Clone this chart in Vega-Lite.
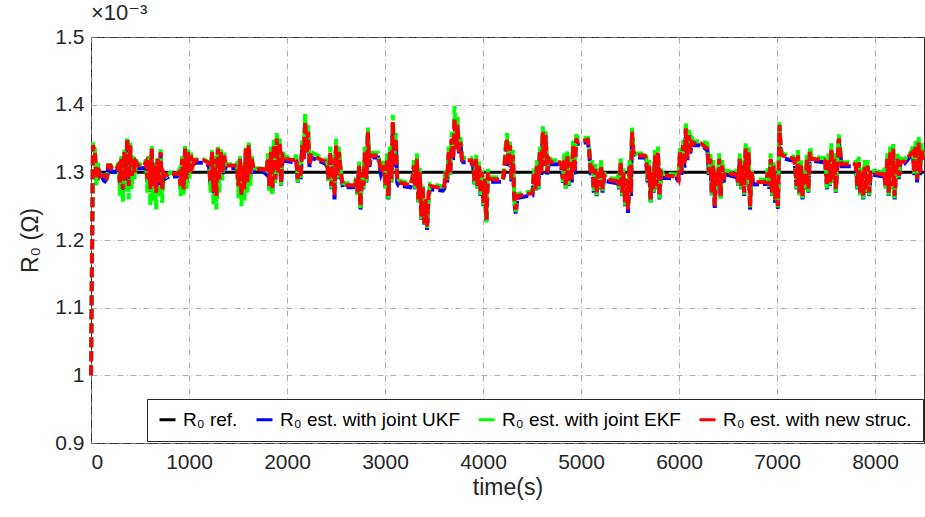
{
"$schema":"https://vega.github.io/schema/vega-lite/v6.json",
"width":833,"height":406,
"autosize":{"type":"none"},
"padding":{"left":91,"top":37,"right":1,"bottom":74},
"background":"white",
"title":{"text":"×10⁻³","anchor":"start","frame":"group","fontSize":22,"fontWeight":"normal","font":"Liberation Sans, DejaVu Sans","color":"#262626","offset":1},
"config":{
 "view":{"stroke":"#262626","strokeWidth":1},
 "axis":{"labelFont":"Liberation Sans","labelFontSize":21,"labelColor":"#262626","titleFont":"Liberation Sans","titleFontSize":23,"titleFontWeight":"normal","titleColor":"#262626","grid":true,"gridColor":"#8c8c8c","gridDash":[6,3,1,3],"gridOpacity":0.7,"gridWidth":1,"domain":false,"ticks":false},
 "legend":{"orient":"none","legendX":56,"legendY":362,"direction":"horizontal","columns":4,"strokeColor":"#262626","fillColor":"white","padding":11,"symbolType":"stroke","symbolStrokeWidth":3,"symbolSize":256,"labelFontSize":19,"labelFont":"Liberation Sans","labelColor":"#000000","labelLimit":400,"columnPadding":12,"labelOffset":6,"cornerRadius":0}
},
"datasets":{
"ref":[{"t":0,"v":1.3},{"t":8500,"v":1.3}],
"est":[
{"t":0,"n":1.00,"u":1.00,"e":1.00},
{"t":20,"n":1.34,"u":1.338,"e":1.344},
{"t":40,"n":1.33,"u":1.328,"e":1.334},
{"t":55,"n":1.29,"u":1.286,"e":1.28},
{"t":70,"n":1.31,"u":1.308,"e":1.314},
{"t":90,"n":1.295,"u":1.291,"e":1.293},
{"t":110,"n":1.30,"u":1.296,"e":1.301},
{"t":130,"n":1.295,"u":1.288,"e":1.296},
{"t":160,"n":1.292,"u":1.285,"e":1.293},
{"t":175,"n":1.31,"u":1.306,"e":1.311},
{"t":200,"n":1.31,"u":1.306,"e":1.311},
{"t":215,"n":1.305,"u":1.301,"e":1.306},
{"t":230,"n":1.305,"u":1.301,"e":1.306},
{"t":260,"n":1.305,"u":1.301,"e":1.307},
{"t":280,"n":1.31,"u":1.308,"e":1.314},
{"t":295,"n":1.285,"u":1.281,"e":1.265},
{"t":310,"n":1.32,"u":1.318,"e":1.324},
{"t":325,"n":1.275,"u":1.271,"e":1.255},
{"t":340,"n":1.33,"u":1.328,"e":1.334},
{"t":355,"n":1.29,"u":1.286,"e":1.27},
{"t":370,"n":1.35,"u":1.348,"e":1.352},
{"t":385,"n":1.28,"u":1.276,"e":1.26},
{"t":400,"n":1.34,"u":1.338,"e":1.344},
{"t":415,"n":1.295,"u":1.291,"e":1.275},
{"t":430,"n":1.32,"u":1.318,"e":1.324},
{"t":445,"n":1.30,"u":1.298,"e":1.29},
{"t":460,"n":1.315,"u":1.313,"e":1.319},
{"t":480,"n":1.31,"u":1.306,"e":1.312},
{"t":540,"n":1.31,"u":1.306,"e":1.312},
{"t":560,"n":1.315,"u":1.313,"e":1.319},
{"t":575,"n":1.29,"u":1.286,"e":1.27},
{"t":590,"n":1.32,"u":1.318,"e":1.324},
{"t":605,"n":1.275,"u":1.271,"e":1.25},
{"t":620,"n":1.335,"u":1.333,"e":1.339},
{"t":635,"n":1.28,"u":1.276,"e":1.258},
{"t":650,"n":1.31,"u":1.308,"e":1.314},
{"t":665,"n":1.27,"u":1.266,"e":1.245},
{"t":680,"n":1.32,"u":1.318,"e":1.324},
{"t":695,"n":1.285,"u":1.281,"e":1.262},
{"t":710,"n":1.33,"u":1.328,"e":1.334},
{"t":725,"n":1.275,"u":1.271,"e":1.255},
{"t":740,"n":1.30,"u":1.298,"e":1.29},
{"t":760,"n":1.295,"u":1.291,"e":1.293},
{"t":800,"n":1.298,"u":1.294,"e":1.299},
{"t":880,"n":1.298,"u":1.294,"e":1.299},
{"t":900,"n":1.30,"u":1.298,"e":1.304},
{"t":915,"n":1.28,"u":1.276,"e":1.265},
{"t":930,"n":1.32,"u":1.318,"e":1.324},
{"t":945,"n":1.275,"u":1.271,"e":1.265},
{"t":960,"n":1.335,"u":1.333,"e":1.339},
{"t":975,"n":1.29,"u":1.286,"e":1.275},
{"t":990,"n":1.33,"u":1.328,"e":1.334},
{"t":1005,"n":1.30,"u":1.296,"e":1.29},
{"t":1020,"n":1.325,"u":1.323,"e":1.329},
{"t":1040,"n":1.31,"u":1.308,"e":1.314},
{"t":1060,"n":1.318,"u":1.314,"e":1.319},
{"t":1150,"n":1.318,"u":1.314,"e":1.319},
{"t":1190,"n":1.315,"u":1.311,"e":1.316},
{"t":1205,"n":1.31,"u":1.308,"e":1.314},
{"t":1220,"n":1.285,"u":1.281,"e":1.27},
{"t":1235,"n":1.33,"u":1.328,"e":1.334},
{"t":1250,"n":1.27,"u":1.266,"e":1.25},
{"t":1265,"n":1.32,"u":1.318,"e":1.324},
{"t":1280,"n":1.265,"u":1.261,"e":1.245},
{"t":1295,"n":1.335,"u":1.333,"e":1.339},
{"t":1310,"n":1.29,"u":1.286,"e":1.27},
{"t":1325,"n":1.33,"u":1.328,"e":1.334},
{"t":1340,"n":1.30,"u":1.296,"e":1.288},
{"t":1360,"n":1.325,"u":1.323,"e":1.329},
{"t":1375,"n":1.31,"u":1.306,"e":1.312},
{"t":1470,"n":1.31,"u":1.306,"e":1.312},
{"t":1490,"n":1.31,"u":1.308,"e":1.314},
{"t":1505,"n":1.28,"u":1.276,"e":1.262},
{"t":1520,"n":1.32,"u":1.318,"e":1.324},
{"t":1535,"n":1.265,"u":1.261,"e":1.25},
{"t":1550,"n":1.31,"u":1.308,"e":1.314},
{"t":1565,"n":1.275,"u":1.271,"e":1.258},
{"t":1580,"n":1.335,"u":1.333,"e":1.339},
{"t":1595,"n":1.285,"u":1.281,"e":1.27},
{"t":1610,"n":1.34,"u":1.338,"e":1.346},
{"t":1625,"n":1.295,"u":1.291,"e":1.28},
{"t":1640,"n":1.32,"u":1.318,"e":1.324},
{"t":1660,"n":1.305,"u":1.301,"e":1.306},
{"t":1760,"n":1.305,"u":1.301,"e":1.306},
{"t":1790,"n":1.30,"u":1.297,"e":1.303},
{"t":1805,"n":1.32,"u":1.318,"e":1.328},
{"t":1820,"n":1.28,"u":1.275,"e":1.272},
{"t":1835,"n":1.33,"u":1.328,"e":1.338},
{"t":1850,"n":1.275,"u":1.27,"e":1.268},
{"t":1865,"n":1.34,"u":1.338,"e":1.348},
{"t":1880,"n":1.29,"u":1.285,"e":1.284},
{"t":1895,"n":1.35,"u":1.348,"e":1.358},
{"t":1910,"n":1.30,"u":1.296,"e":1.296},
{"t":1925,"n":1.345,"u":1.343,"e":1.353},
{"t":1940,"n":1.285,"u":1.28,"e":1.281},
{"t":1955,"n":1.325,"u":1.323,"e":1.333},
{"t":1975,"n":1.32,"u":1.317,"e":1.323},
{"t":2080,"n":1.318,"u":1.315,"e":1.321},
{"t":2095,"n":1.32,"u":1.318,"e":1.326},
{"t":2110,"n":1.29,"u":1.285,"e":1.286},
{"t":2125,"n":1.31,"u":1.308,"e":1.316},
{"t":2140,"n":1.295,"u":1.29,"e":1.291},
{"t":2155,"n":1.34,"u":1.338,"e":1.348},
{"t":2170,"n":1.32,"u":1.318,"e":1.326},
{"t":2185,"n":1.375,"u":1.373,"e":1.387},
{"t":2200,"n":1.33,"u":1.328,"e":1.338},
{"t":2215,"n":1.36,"u":1.358,"e":1.37},
{"t":2230,"n":1.31,"u":1.308,"e":1.316},
{"t":2245,"n":1.325,"u":1.322,"e":1.33},
{"t":2390,"n":1.316,"u":1.313,"e":1.319},
{"t":2410,"n":1.31,"u":1.308,"e":1.316},
{"t":2425,"n":1.29,"u":1.285,"e":1.286},
{"t":2440,"n":1.33,"u":1.328,"e":1.338},
{"t":2455,"n":1.28,"u":1.275,"e":1.276},
{"t":2470,"n":1.32,"u":1.318,"e":1.328},
{"t":2485,"n":1.265,"u":1.26,"e":1.27},
{"t":2500,"n":1.34,"u":1.338,"e":1.35},
{"t":2515,"n":1.295,"u":1.29,"e":1.291},
{"t":2530,"n":1.33,"u":1.328,"e":1.338},
{"t":2550,"n":1.30,"u":1.296,"e":1.30},
{"t":2570,"n":1.281,"u":1.278,"e":1.284},
{"t":2690,"n":1.281,"u":1.278,"e":1.284},
{"t":2705,"n":1.29,"u":1.285,"e":1.292},
{"t":2720,"n":1.27,"u":1.265,"e":1.266},
{"t":2735,"n":1.31,"u":1.308,"e":1.316},
{"t":2750,"n":1.25,"u":1.245,"e":1.247},
{"t":2765,"n":1.30,"u":1.297,"e":1.305},
{"t":2780,"n":1.28,"u":1.275,"e":1.276},
{"t":2795,"n":1.33,"u":1.328,"e":1.338},
{"t":2810,"n":1.29,"u":1.285,"e":1.286},
{"t":2825,"n":1.36,"u":1.358,"e":1.366},
{"t":2840,"n":1.31,"u":1.308,"e":1.316},
{"t":2855,"n":1.325,"u":1.322,"e":1.329},
{"t":2930,"n":1.325,"u":1.322,"e":1.329},
{"t":2960,"n":1.30,"u":1.297,"e":1.303},
{"t":2990,"n":1.31,"u":1.308,"e":1.316},
{"t":3005,"n":1.28,"u":1.275,"e":1.276},
{"t":3020,"n":1.32,"u":1.318,"e":1.328},
{"t":3035,"n":1.265,"u":1.26,"e":1.261},
{"t":3050,"n":1.33,"u":1.328,"e":1.338},
{"t":3065,"n":1.29,"u":1.285,"e":1.286},
{"t":3080,"n":1.375,"u":1.373,"e":1.385},
{"t":3095,"n":1.31,"u":1.308,"e":1.318},
{"t":3110,"n":1.35,"u":1.348,"e":1.358},
{"t":3125,"n":1.29,"u":1.285,"e":1.286},
{"t":3140,"n":1.285,"u":1.28,"e":1.288},
{"t":3260,"n":1.281,"u":1.278,"e":1.284},
{"t":3280,"n":1.29,"u":1.286,"e":1.294},
{"t":3295,"n":1.31,"u":1.308,"e":1.318},
{"t":3310,"n":1.28,"u":1.275,"e":1.276},
{"t":3325,"n":1.32,"u":1.318,"e":1.328},
{"t":3340,"n":1.26,"u":1.255,"e":1.256},
{"t":3355,"n":1.30,"u":1.297,"e":1.306},
{"t":3370,"n":1.235,"u":1.23,"e":1.231},
{"t":3385,"n":1.28,"u":1.275,"e":1.28},
{"t":3400,"n":1.225,"u":1.22,"e":1.222},
{"t":3415,"n":1.26,"u":1.255,"e":1.257},
{"t":3430,"n":1.22,"u":1.215,"e":1.218},
{"t":3445,"n":1.27,"u":1.265,"e":1.267},
{"t":3460,"n":1.28,"u":1.275,"e":1.283},
{"t":3590,"n":1.276,"u":1.273,"e":1.279},
{"t":3605,"n":1.28,"u":1.276,"e":1.284},
{"t":3620,"n":1.30,"u":1.297,"e":1.306},
{"t":3635,"n":1.29,"u":1.285,"e":1.286},
{"t":3650,"n":1.33,"u":1.328,"e":1.338},
{"t":3665,"n":1.30,"u":1.296,"e":1.297},
{"t":3680,"n":1.35,"u":1.348,"e":1.36},
{"t":3695,"n":1.32,"u":1.318,"e":1.326},
{"t":3710,"n":1.38,"u":1.378,"e":1.398},
{"t":3725,"n":1.335,"u":1.333,"e":1.343},
{"t":3740,"n":1.37,"u":1.368,"e":1.382},
{"t":3755,"n":1.33,"u":1.328,"e":1.338},
{"t":3770,"n":1.345,"u":1.343,"e":1.353},
{"t":3785,"n":1.32,"u":1.318,"e":1.326},
{"t":3800,"n":1.318,"u":1.315,"e":1.321},
{"t":3880,"n":1.318,"u":1.315,"e":1.321},
{"t":3900,"n":1.31,"u":1.308,"e":1.316},
{"t":3915,"n":1.285,"u":1.28,"e":1.281},
{"t":3930,"n":1.32,"u":1.318,"e":1.326},
{"t":3945,"n":1.28,"u":1.275,"e":1.276},
{"t":3960,"n":1.31,"u":1.308,"e":1.316},
{"t":3975,"n":1.27,"u":1.265,"e":1.266},
{"t":3990,"n":1.30,"u":1.297,"e":1.305},
{"t":4005,"n":1.255,"u":1.25,"e":1.251},
{"t":4020,"n":1.29,"u":1.285,"e":1.292},
{"t":4035,"n":1.23,"u":1.225,"e":1.226},
{"t":4050,"n":1.30,"u":1.297,"e":1.305},
{"t":4065,"n":1.29,"u":1.286,"e":1.293},
{"t":4200,"n":1.289,"u":1.286,"e":1.292},
{"t":4215,"n":1.30,"u":1.297,"e":1.305},
{"t":4230,"n":1.33,"u":1.328,"e":1.338},
{"t":4245,"n":1.35,"u":1.348,"e":1.358},
{"t":4260,"n":1.31,"u":1.308,"e":1.316},
{"t":4275,"n":1.34,"u":1.338,"e":1.348},
{"t":4290,"n":1.29,"u":1.285,"e":1.29},
{"t":4305,"n":1.325,"u":1.323,"e":1.333},
{"t":4320,"n":1.26,"u":1.255,"e":1.256},
{"t":4335,"n":1.245,"u":1.238,"e":1.242},
{"t":4350,"n":1.265,"u":1.262,"e":1.268},
{"t":4490,"n":1.269,"u":1.266,"e":1.272},
{"t":4505,"n":1.27,"u":1.266,"e":1.273},
{"t":4520,"n":1.30,"u":1.297,"e":1.306},
{"t":4535,"n":1.275,"u":1.27,"e":1.271},
{"t":4550,"n":1.31,"u":1.308,"e":1.318},
{"t":4565,"n":1.28,"u":1.275,"e":1.276},
{"t":4580,"n":1.33,"u":1.328,"e":1.338},
{"t":4595,"n":1.30,"u":1.296,"e":1.30},
{"t":4610,"n":1.36,"u":1.358,"e":1.368},
{"t":4625,"n":1.31,"u":1.308,"e":1.318},
{"t":4640,"n":1.355,"u":1.353,"e":1.363},
{"t":4655,"n":1.30,"u":1.296,"e":1.303},
{"t":4670,"n":1.32,"u":1.318,"e":1.326},
{"t":4690,"n":1.315,"u":1.312,"e":1.318},
{"t":4780,"n":1.315,"u":1.312,"e":1.318},
{"t":4800,"n":1.31,"u":1.307,"e":1.316},
{"t":4815,"n":1.29,"u":1.285,"e":1.286},
{"t":4830,"n":1.32,"u":1.318,"e":1.328},
{"t":4845,"n":1.28,"u":1.275,"e":1.276},
{"t":4860,"n":1.325,"u":1.323,"e":1.333},
{"t":4875,"n":1.285,"u":1.28,"e":1.281},
{"t":4890,"n":1.315,"u":1.313,"e":1.323},
{"t":4905,"n":1.29,"u":1.285,"e":1.29},
{"t":4920,"n":1.34,"u":1.338,"e":1.348},
{"t":4935,"n":1.30,"u":1.296,"e":1.305},
{"t":4950,"n":1.35,"u":1.348,"e":1.356},
{"t":4965,"n":1.345,"u":1.342,"e":1.351},
{"t":5070,"n":1.348,"u":1.345,"e":1.351},
{"t":5085,"n":1.33,"u":1.328,"e":1.336},
{"t":5100,"n":1.30,"u":1.296,"e":1.30},
{"t":5115,"n":1.31,"u":1.308,"e":1.318},
{"t":5130,"n":1.275,"u":1.27,"e":1.271},
{"t":5145,"n":1.305,"u":1.303,"e":1.313},
{"t":5160,"n":1.27,"u":1.265,"e":1.266},
{"t":5175,"n":1.30,"u":1.297,"e":1.306},
{"t":5190,"n":1.28,"u":1.275,"e":1.276},
{"t":5205,"n":1.31,"u":1.308,"e":1.318},
{"t":5220,"n":1.275,"u":1.27,"e":1.271},
{"t":5235,"n":1.295,"u":1.292,"e":1.30},
{"t":5255,"n":1.29,"u":1.287,"e":1.293},
{"t":5360,"n":1.287,"u":1.284,"e":1.29},
{"t":5375,"n":1.29,"u":1.287,"e":1.294},
{"t":5390,"n":1.28,"u":1.275,"e":1.276},
{"t":5405,"n":1.315,"u":1.313,"e":1.323},
{"t":5420,"n":1.27,"u":1.265,"e":1.266},
{"t":5435,"n":1.30,"u":1.297,"e":1.306},
{"t":5450,"n":1.255,"u":1.25,"e":1.251},
{"t":5465,"n":1.29,"u":1.285,"e":1.292},
{"t":5480,"n":1.245,"u":1.24,"e":1.25},
{"t":5495,"n":1.31,"u":1.308,"e":1.318},
{"t":5510,"n":1.27,"u":1.265,"e":1.272},
{"t":5520,"n":1.36,"u":1.356,"e":1.366},
{"t":5535,"n":1.33,"u":1.327,"e":1.335},
{"t":5550,"n":1.325,"u":1.322,"e":1.328},
{"t":5650,"n":1.325,"u":1.322,"e":1.328},
{"t":5665,"n":1.32,"u":1.318,"e":1.328},
{"t":5680,"n":1.29,"u":1.285,"e":1.286},
{"t":5695,"n":1.31,"u":1.308,"e":1.318},
{"t":5710,"n":1.26,"u":1.255,"e":1.256},
{"t":5725,"n":1.30,"u":1.297,"e":1.306},
{"t":5740,"n":1.275,"u":1.27,"e":1.271},
{"t":5755,"n":1.325,"u":1.323,"e":1.333},
{"t":5770,"n":1.28,"u":1.275,"e":1.276},
{"t":5785,"n":1.33,"u":1.328,"e":1.338},
{"t":5800,"n":1.265,"u":1.26,"e":1.261},
{"t":5815,"n":1.30,"u":1.297,"e":1.305},
{"t":5835,"n":1.295,"u":1.292,"e":1.298},
{"t":5980,"n":1.294,"u":1.291,"e":1.297},
{"t":5995,"n":1.29,"u":1.286,"e":1.294},
{"t":6010,"n":1.33,"u":1.328,"e":1.338},
{"t":6025,"n":1.30,"u":1.296,"e":1.30},
{"t":6040,"n":1.34,"u":1.338,"e":1.348},
{"t":6055,"n":1.31,"u":1.307,"e":1.312},
{"t":6070,"n":1.365,"u":1.363,"e":1.375},
{"t":6085,"n":1.32,"u":1.318,"e":1.326},
{"t":6100,"n":1.355,"u":1.353,"e":1.363},
{"t":6115,"n":1.33,"u":1.328,"e":1.336},
{"t":6130,"n":1.345,"u":1.343,"e":1.351},
{"t":6150,"n":1.343,"u":1.34,"e":1.346},
{"t":6220,"n":1.343,"u":1.34,"e":1.346},
{"t":6290,"n":1.335,"u":1.333,"e":1.343},
{"t":6305,"n":1.30,"u":1.296,"e":1.298},
{"t":6320,"n":1.32,"u":1.318,"e":1.328},
{"t":6335,"n":1.27,"u":1.265,"e":1.266},
{"t":6350,"n":1.31,"u":1.308,"e":1.318},
{"t":6365,"n":1.25,"u":1.245,"e":1.248},
{"t":6380,"n":1.30,"u":1.297,"e":1.306},
{"t":6395,"n":1.285,"u":1.28,"e":1.281},
{"t":6410,"n":1.32,"u":1.318,"e":1.328},
{"t":6425,"n":1.265,"u":1.26,"e":1.261},
{"t":6440,"n":1.31,"u":1.308,"e":1.318},
{"t":6455,"n":1.29,"u":1.285,"e":1.29},
{"t":6470,"n":1.30,"u":1.297,"e":1.303},
{"t":6580,"n":1.296,"u":1.293,"e":1.299},
{"t":6590,"n":1.30,"u":1.297,"e":1.305},
{"t":6605,"n":1.285,"u":1.28,"e":1.281},
{"t":6620,"n":1.32,"u":1.318,"e":1.328},
{"t":6635,"n":1.28,"u":1.275,"e":1.276},
{"t":6650,"n":1.31,"u":1.308,"e":1.318},
{"t":6665,"n":1.27,"u":1.265,"e":1.266},
{"t":6680,"n":1.335,"u":1.333,"e":1.343},
{"t":6695,"n":1.29,"u":1.285,"e":1.286},
{"t":6710,"n":1.33,"u":1.328,"e":1.338},
{"t":6725,"n":1.25,"u":1.245,"e":1.248},
{"t":6740,"n":1.30,"u":1.297,"e":1.305},
{"t":6755,"n":1.285,"u":1.282,"e":1.29},
{"t":6890,"n":1.286,"u":1.283,"e":1.289},
{"t":6905,"n":1.30,"u":1.297,"e":1.306},
{"t":6920,"n":1.28,"u":1.275,"e":1.276},
{"t":6935,"n":1.32,"u":1.318,"e":1.328},
{"t":6950,"n":1.27,"u":1.265,"e":1.266},
{"t":6965,"n":1.31,"u":1.308,"e":1.318},
{"t":6980,"n":1.26,"u":1.255,"e":1.256},
{"t":6995,"n":1.29,"u":1.286,"e":1.295},
{"t":7010,"n":1.25,"u":1.245,"e":1.248},
{"t":7025,"n":1.37,"u":1.366,"e":1.374},
{"t":7040,"n":1.33,"u":1.326,"e":1.336},
{"t":7055,"n":1.325,"u":1.321,"e":1.328},
{"t":7170,"n":1.32,"u":1.317,"e":1.323},
{"t":7185,"n":1.31,"u":1.308,"e":1.318},
{"t":7200,"n":1.28,"u":1.275,"e":1.276},
{"t":7215,"n":1.325,"u":1.323,"e":1.333},
{"t":7230,"n":1.27,"u":1.265,"e":1.266},
{"t":7245,"n":1.31,"u":1.308,"e":1.318},
{"t":7260,"n":1.265,"u":1.26,"e":1.261},
{"t":7275,"n":1.30,"u":1.297,"e":1.306},
{"t":7290,"n":1.28,"u":1.275,"e":1.276},
{"t":7305,"n":1.32,"u":1.318,"e":1.328},
{"t":7320,"n":1.275,"u":1.27,"e":1.271},
{"t":7335,"n":1.33,"u":1.328,"e":1.338},
{"t":7355,"n":1.32,"u":1.317,"e":1.323},
{"t":7480,"n":1.318,"u":1.315,"e":1.321},
{"t":7495,"n":1.31,"u":1.308,"e":1.318},
{"t":7510,"n":1.28,"u":1.275,"e":1.276},
{"t":7525,"n":1.32,"u":1.318,"e":1.328},
{"t":7540,"n":1.285,"u":1.28,"e":1.281},
{"t":7555,"n":1.335,"u":1.333,"e":1.343},
{"t":7570,"n":1.29,"u":1.285,"e":1.286},
{"t":7585,"n":1.32,"u":1.318,"e":1.328},
{"t":7600,"n":1.275,"u":1.27,"e":1.271},
{"t":7615,"n":1.31,"u":1.308,"e":1.318},
{"t":7630,"n":1.35,"u":1.348,"e":1.356},
{"t":7645,"n":1.33,"u":1.328,"e":1.336},
{"t":7660,"n":1.312,"u":1.309,"e":1.315},
{"t":7790,"n":1.312,"u":1.309,"e":1.315},
{"t":7805,"n":1.31,"u":1.307,"e":1.316},
{"t":7820,"n":1.28,"u":1.275,"e":1.276},
{"t":7835,"n":1.315,"u":1.313,"e":1.323},
{"t":7850,"n":1.27,"u":1.265,"e":1.266},
{"t":7865,"n":1.30,"u":1.297,"e":1.306},
{"t":7880,"n":1.265,"u":1.26,"e":1.261},
{"t":7895,"n":1.31,"u":1.308,"e":1.318},
{"t":7910,"n":1.275,"u":1.27,"e":1.271},
{"t":7925,"n":1.31,"u":1.308,"e":1.318},
{"t":7940,"n":1.27,"u":1.265,"e":1.266},
{"t":7955,"n":1.30,"u":1.297,"e":1.303},
{"t":8080,"n":1.297,"u":1.294,"e":1.30},
{"t":8095,"n":1.30,"u":1.297,"e":1.306},
{"t":8110,"n":1.28,"u":1.275,"e":1.276},
{"t":8125,"n":1.32,"u":1.318,"e":1.328},
{"t":8140,"n":1.27,"u":1.265,"e":1.266},
{"t":8155,"n":1.33,"u":1.328,"e":1.338},
{"t":8170,"n":1.28,"u":1.275,"e":1.276},
{"t":8185,"n":1.335,"u":1.333,"e":1.343},
{"t":8200,"n":1.265,"u":1.26,"e":1.261},
{"t":8215,"n":1.30,"u":1.297,"e":1.306},
{"t":8230,"n":1.32,"u":1.318,"e":1.328},
{"t":8245,"n":1.295,"u":1.29,"e":1.291},
{"t":8260,"n":1.315,"u":1.312,"e":1.32},
{"t":8300,"n":1.316,"u":1.313,"e":1.319},
{"t":8370,"n":1.328,"u":1.325,"e":1.331},
{"t":8385,"n":1.33,"u":1.328,"e":1.338},
{"t":8400,"n":1.30,"u":1.296,"e":1.298},
{"t":8415,"n":1.34,"u":1.338,"e":1.348},
{"t":8430,"n":1.29,"u":1.285,"e":1.288},
{"t":8445,"n":1.345,"u":1.343,"e":1.353},
{"t":8460,"n":1.30,"u":1.296,"e":1.30},
{"t":8475,"n":1.335,"u":1.333,"e":1.343},
{"t":8490,"n":1.32,"u":1.317,"e":1.325},
{"t":8500,"n":1.325,"u":1.322,"e":1.33}
]},
"encoding":{
 "x":{"field":"t","type":"quantitative","scale":{"domain":[0,8500],"nice":false,"zero":false},"axis":{"title":"time(s)","values":[0,1000,2000,3000,4000,5000,6000,7000,8000],"format":"d","labelPadding":8,"titlePadding":4}},
 "color":{"type":"nominal","scale":{"domain":["ref","u","e","n"],"range":["#000000","#0000ff","#00ff00","#ff0000"]},"legend":{"title":null,"labelExpr":"datum.label == 'ref' ? 'R₀ ref.' : datum.label == 'u' ? 'R₀ est. with joint UKF' : datum.label == 'e' ? 'R₀ est. with joint EKF' : 'R₀ est. with new struc.'"}}
},
"layer":[
 {"data":{"name":"ref"},"mark":{"type":"line","strokeWidth":3},
  "encoding":{"y":{"field":"v","type":"quantitative","scale":{"domain":[0.9,1.5],"nice":false,"zero":false},"axis":{"title":"R₀ (Ω)","values":[0.9,1,1.1,1.2,1.3,1.4,1.5],"format":"~g","labelPadding":7,"titlePadding":12}},"color":{"datum":"ref"}}},
 {"data":{"name":"est"},"mark":{"type":"line","strokeWidth":4,"strokeDash":[10,4]},
  "encoding":{"y":{"field":"u","type":"quantitative"},"color":{"datum":"u"}}},
 {"data":{"name":"est"},"mark":{"type":"line","strokeWidth":4,"strokeDash":[10,4]},
  "encoding":{"y":{"field":"e","type":"quantitative"},"color":{"datum":"e"}}},
 {"data":{"name":"est"},"mark":{"type":"line","strokeWidth":4,"strokeDash":[10,4]},
  "encoding":{"y":{"field":"n","type":"quantitative"},"color":{"datum":"n"}}}
]
}
